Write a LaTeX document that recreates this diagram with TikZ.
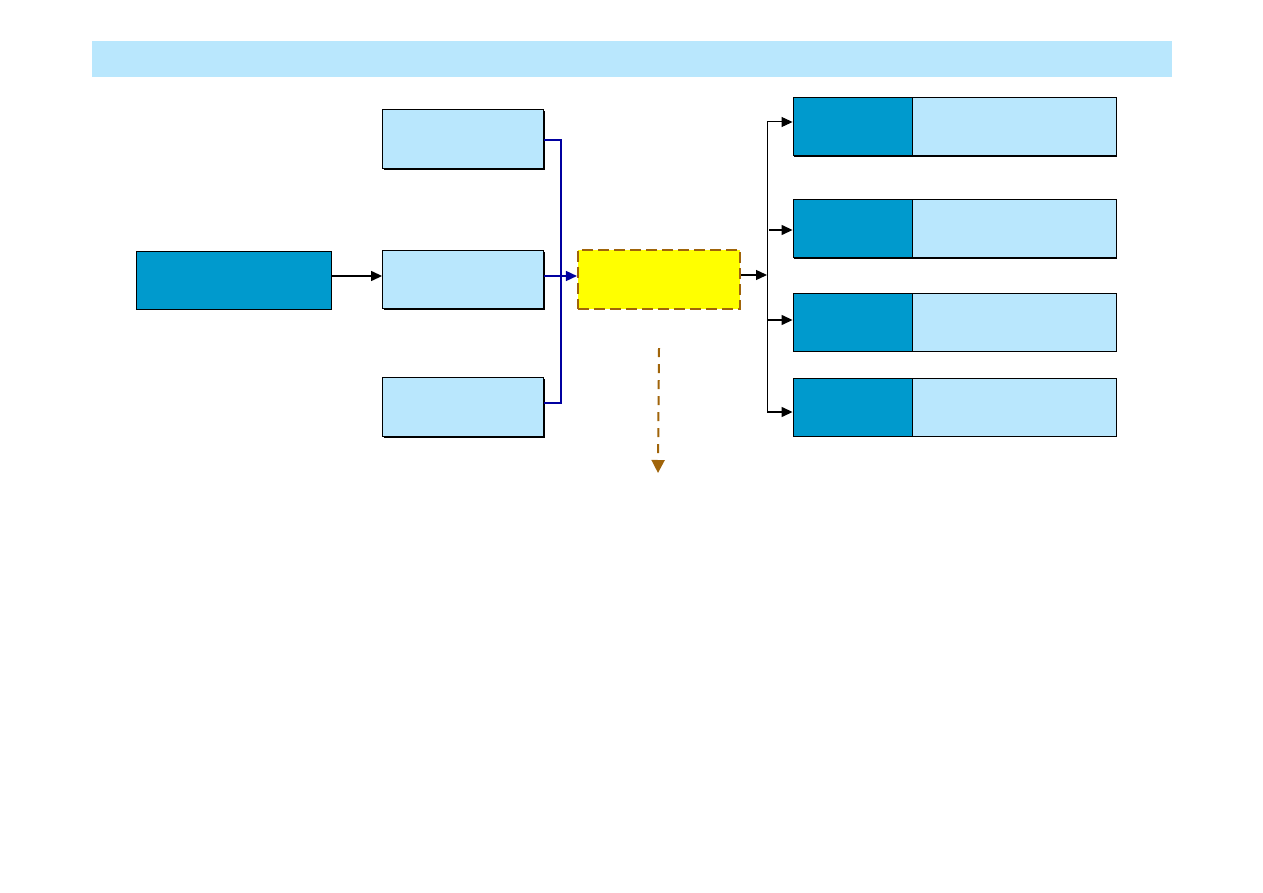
\documentclass[tikz,border=0pt]{standalone}
\usetikzlibrary{arrows.meta}
\usetikzlibrary{shadows}

\definecolor{bandblue}{RGB}{185,231,253}
\definecolor{deepblue}{RGB}{0,154,205}
\definecolor{linkblue}{RGB}{0,0,160}
\definecolor{rust}{RGB}{160,100,10}
\definecolor{hubyellow}{RGB}{255,255,0}

\tikzset{
  boxbase/.style={draw,line width=.9pt,inner sep=0pt},
  pale/.style={boxbase,fill=bandblue},
  deep/.style={boxbase,fill=deepblue},
  edged/.style={drop shadow={shadow xshift=1.3pt,shadow yshift=-1.3pt,fill=black,opacity=1}},
  tip/.style={-{Triangle[length=11pt,width=10pt]}},
}

\begin{document}
\begin{tikzpicture}[x=1pt,y=-1pt]
  \useasboundingbox (0,0) rectangle (1263,893);
  % top band
  \fill[bandblue] (92,41) rectangle (1172,77);

  % source and the three feeders
  \node[deep,minimum width=195pt,minimum height=58pt] (src) at (233.5,280) {};
  \node[pale,edged,minimum width=161pt,minimum height=59pt] (up) at (463,139) {};
  \node[pale,edged,minimum width=161pt,minimum height=58pt] (mid) at (463,279.5) {};
  \node[pale,edged,minimum width=161pt,minimum height=59pt] (low) at (463,407) {};

  % dashed hub
  \node[draw=rust,dash pattern=on 11pt off 5pt,line width=2.1pt,fill=hubyellow,
        minimum width=162pt,minimum height=59pt] (hub) at (659,279.5) {};

  % four right rows
  \foreach \n/\y in {1/126.5,2/228.5,3/322,4/407}{
    \node[deep,edged,minimum width=119pt,minimum height=58pt] (d\n) at (852.5,\y) {};
    \node[pale,edged,minimum width=204pt,minimum height=58pt] (l\n) at (1014,\y) {};
  }

  \coordinate (in) at (0,276);
  \draw[tip,line width=1.4pt] (src.east |- in) -- (mid.west |- in);

  % blue collector
  \coordinate (bus) at (561,276);
  \draw[linkblue,line width=1.3pt] (up.east |- 0,140) -- (bus |- 0,140) -- (bus |- 0,403)
        -- (low.east |- 0,403);
  \draw[linkblue,line width=1.6pt,tip] (mid.east |- bus) -- (hub.west |- bus);

  % fan out
  \coordinate (fork) at (767,275);
  \draw[tip,line width=1.4pt] (hub.east |- fork) -- (fork);
  \draw[line width=1pt] (fork |- 0,122) -- (fork |- 0,412);
  \draw[tip,line width=1pt] (fork |- 0,122) -- (d1.west |- 0,122);
  \draw[tip,line width=1.4pt] ([xshift=2pt]fork |- 0,230) -- (d2.west |- 0,230);
  \draw[tip,line width=1.4pt] (fork |- 0,320) -- (d3.west |- 0,320);
  \draw[tip,line width=1.4pt] (fork |- 0,412) -- (d4.west |- 0,412);

  % dashed drop below hub
  \coordinate (drop) at (658,473);
  \draw[rust,line width=2pt,dash pattern=on 9pt off 7pt,-{Triangle[length=13pt,width=13pt]}]
        ([yshift=-38pt]hub.south) -- (drop);
\end{tikzpicture}
\end{document}
